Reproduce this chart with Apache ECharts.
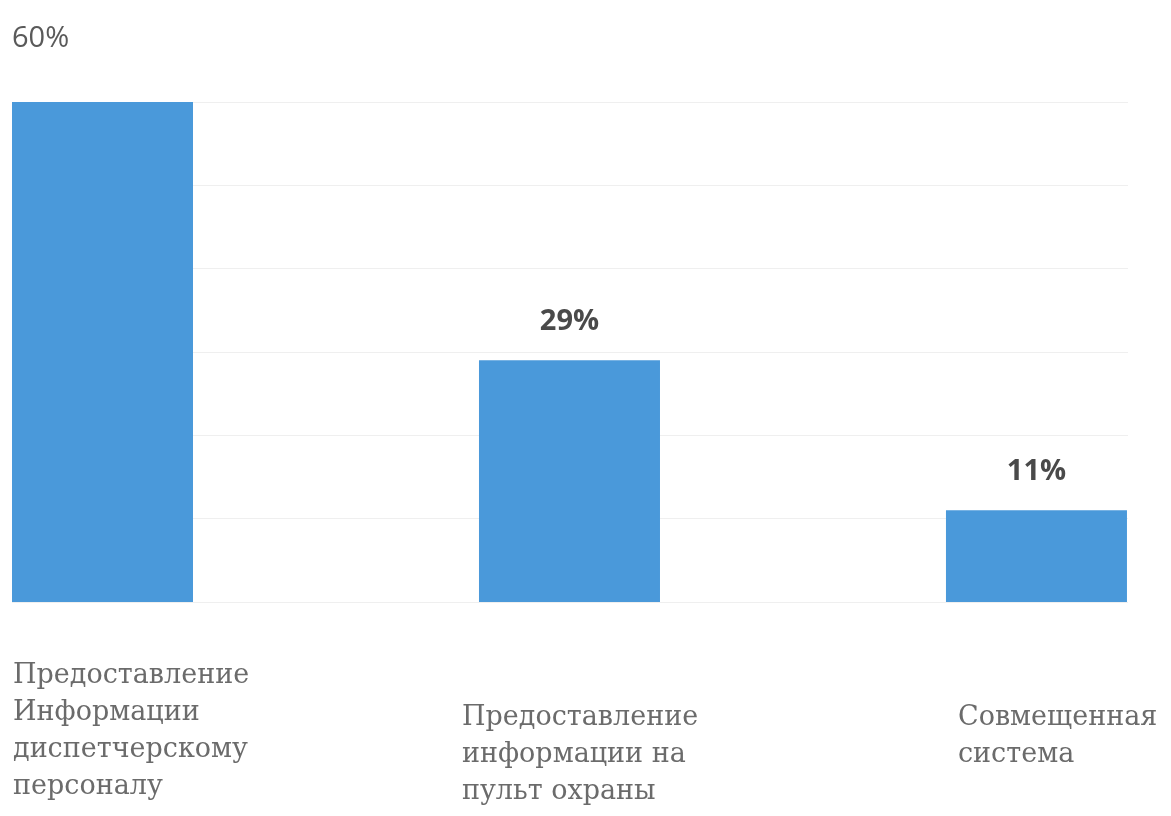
<!DOCTYPE html>
<html>
<head>
<meta charset="utf-8">
<script src="https://cdn.jsdelivr.net/npm/echarts@6/dist/echarts.min.js"></script>
<style>html,body{margin:0;padding:0;background:#fff;}#c{width:1171px;height:816px;}</style>
</head>
<body>
<div id="c"></div>
<script>
const categories = [
  'Предоставление\nИнформации\nдиспетчерскому\nперсоналу',
  'Предоставление\nинформации на\nпульт охраны',
  'Совмещенная\nсистема'
];
const values = [60, 29, 11];
const yMin = 0, yMax = 60, yStep = 10;

const chart = echarts.init(document.getElementById('c'));
// label placement (style only): offset from each category point on the baseline
const catLabelPos = [[-89, 56], [-107, 98], [-78, 98]];

chart.setOption({
  animation: false,
  backgroundColor: '#ffffff',
  grid: { left: 12, right: 43, top: 102, bottom: 214 },
  xAxis: {
    type: 'value', min: -0.1938, max: 2.196, show: false
  },
  yAxis: {
    type: 'value', min: yMin, max: yMax, interval: yStep,
    axisLine: { show: false }, axisTick: { show: false }, axisLabel: { show: false },
    splitLine: { show: true, lineStyle: { color: '#efefef', width: 1 } }
  },
  series: [{
    type: 'bar',
    barWidth: 181,
    z: 5,
    itemStyle: { color: '#4a99da' },
    data: values.map((v, i) => i === 0 ? {
      value: [i, v],
      label: { position: [0, -78], fontWeight: 'normal', fontSize: 29, color: '#5a5a5a' }
    } : { value: [i, v] }),
    label: {
      show: true, position: 'top', distance: 24,
      formatter: p => p.value[1] + '%',
      fontFamily: 'Open Sans', fontWeight: 'bold', fontSize: 29, color: '#4a4a4a'
    }
  }, {
    type: 'scatter',
    symbolSize: 1,
    z: 6,
    silent: true,
    itemStyle: { color: 'rgba(0,0,0,0)', opacity: 1 },
    data: categories.map((c, i) => ({
      value: [i, 0],
      label: { position: catLabelPos[i] }
    })),
    label: {
      show: true,
      formatter: p => categories[p.dataIndex],
      align: 'left', verticalAlign: 'top',
      fontFamily: 'DejaVu Serif', fontSize: 27, lineHeight: 37, color: '#6b6b6b'
    }
  }]
});
</script>
</body>
</html>
